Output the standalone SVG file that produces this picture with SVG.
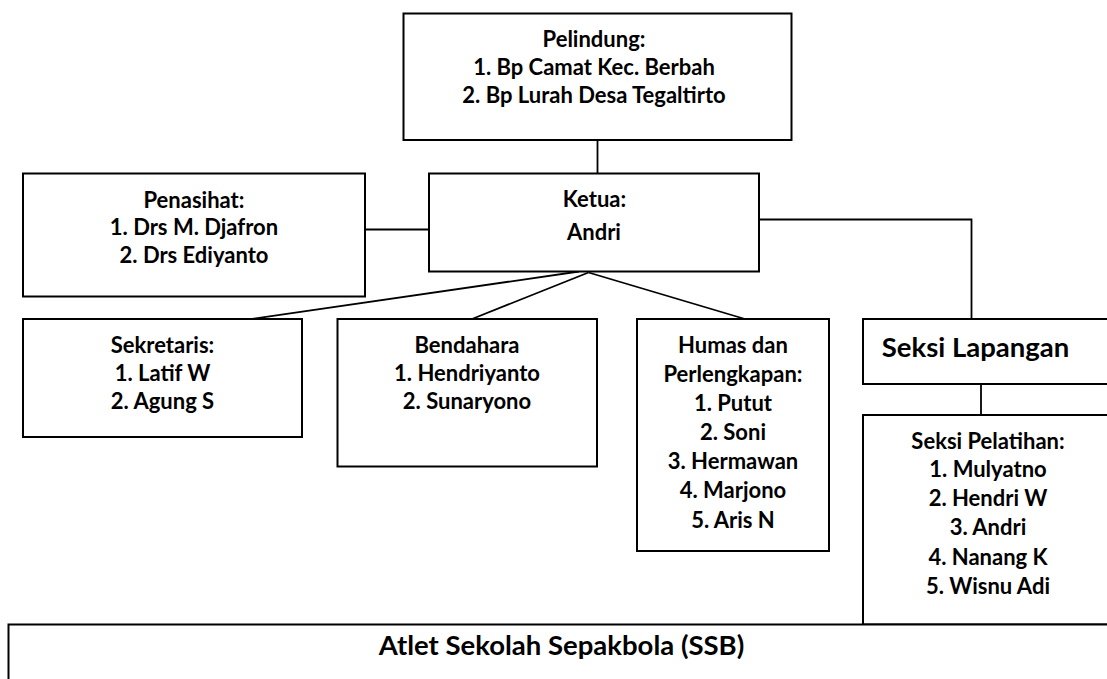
<svg xmlns="http://www.w3.org/2000/svg" width="1107" height="679" viewBox="0 0 1107 679">
<style>
.box{fill:#fff;stroke:#000;stroke-width:2}
.con{fill:none;stroke:#000;stroke-width:1.8}
text{font-family:Lato,"Open Sans","Liberation Sans",sans-serif;font-weight:bold;fill:#000;text-anchor:middle;font-size:22px}
.big{font-size:27.5px}
</style>
<rect width="1107" height="679" fill="#fff"/>
<g id="connectors">
<path class="con" d="M597.5 140V173.5"/>
<path class="con" d="M365 229.5H429"/>
<path class="con" d="M759 219.5H971.5V319"/>
<path class="con" d="M579 271.5L252 319"/>
<path class="con" d="M588.5 272.5L472 319"/>
<path class="con" d="M588.5 272.5L745 319"/>
<path class="con" d="M981 384V415"/>
</g>
<g id="pelindung">
<rect class="box" x="403.5" y="13.5" width="388" height="126.5"/>
<text x="594" y="47">Pelindung:</text>
<text x="594" y="75">1. Bp Camat Kec. Berbah</text>
<text x="594" y="102.5">2. Bp Lurah Desa Tegaltirto</text>
</g>
<g id="penasihat">
<rect class="box" x="23" y="173.5" width="342" height="123"/>
<text x="194" y="207.5">Penasihat:</text>
<text x="194" y="235">1. Drs M. Djafron</text>
<text x="194" y="263">2. Drs Ediyanto</text>
</g>
<g id="ketua">
<rect class="box" x="429" y="173.5" width="330" height="98"/>
<text x="594.5" y="206.5">Ketua:</text>
<text x="594" y="240">Andri</text>
</g>
<g id="sekretaris">
<rect class="box" x="23" y="319" width="279" height="118"/>
<text x="162.5" y="352.5">Sekretaris:</text>
<text x="162.5" y="381">1. Latif W</text>
<text x="162.5" y="409">2. Agung S</text>
</g>
<g id="bendahara">
<rect class="box" x="337.5" y="319" width="259.5" height="147.5"/>
<text x="467" y="352.5">Bendahara</text>
<text x="467" y="381">1. Hendriyanto</text>
<text x="467" y="409">2. Sunaryono</text>
</g>
<g id="humas">
<rect class="box" x="637" y="319" width="192" height="232"/>
<text x="733" y="352.5">Humas dan</text>
<text x="733" y="381.5">Perlengkapan:</text>
<text x="733" y="411">1. Putut</text>
<text x="733" y="440">2. Soni</text>
<text x="733" y="469">3. Hermawan</text>
<text x="733" y="498">4. Marjono</text>
<text x="733" y="528">5. Aris N</text>
</g>
<g id="seksi-lapangan">
<rect class="box" x="863" y="319" width="252" height="65"/>
<text class="big" x="975.5" y="356.5">Seksi Lapangan</text>
</g>
<g id="seksi-pelatihan">
<rect class="box" x="863" y="415" width="252" height="209.5"/>
<text x="988" y="448.5">Seksi Pelatihan:</text>
<text x="988" y="477">1. Mulyatno</text>
<text x="988" y="506">2. Hendri W</text>
<text x="988" y="535">3. Andri</text>
<text x="988" y="565">4. Nanang K</text>
<text x="988" y="594">5. Wisnu Adi</text>
</g>
<g id="atlet">
<rect class="box" x="8.5" y="624.5" width="1106" height="70"/>
<text class="big" x="561.5" y="655">Atlet Sekolah Sepakbola (SSB)</text>
</g>
</svg>
